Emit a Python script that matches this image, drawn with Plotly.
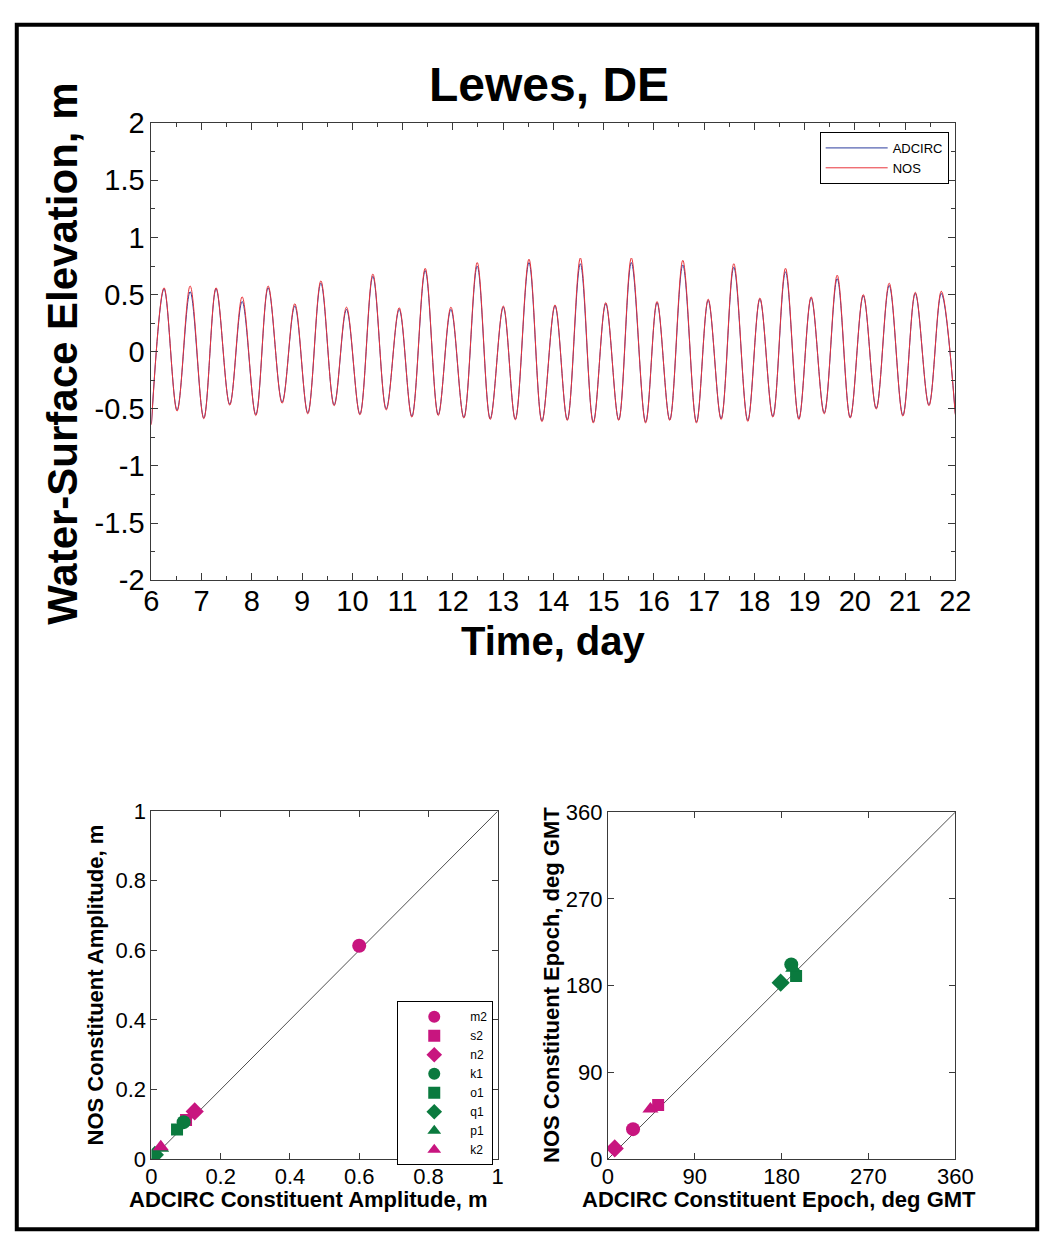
import plotly.graph_objects as go

W, H = 1064, 1253

# ---- Water-surface elevation at Lewes, DE: high / low water (day, m) ----
high_time = [6.252, 6.771, 7.287, 7.806, 8.324, 8.854, 9.373, 9.883, 10.408, 10.932,
             11.450, 11.961, 12.485, 13.004, 13.515, 14.033, 14.538, 15.043, 15.553,
             16.064, 16.577, 17.082, 17.592, 18.111, 18.621, 19.132, 19.650, 20.169,
             20.685, 21.204, 21.722]
nos_high = [0.56, 0.575, 0.56, 0.48, 0.575, 0.42, 0.62, 0.39, 0.68, 0.385, 0.73, 0.39,
            0.78, 0.40, 0.81, 0.41, 0.82, 0.43, 0.82, 0.44, 0.80, 0.46, 0.77, 0.47,
            0.73, 0.48, 0.67, 0.50, 0.60, 0.52, 0.53]
adcirc_high = [0.55, 0.525, 0.55, 0.44, 0.56, 0.40, 0.60, 0.37, 0.66, 0.37, 0.71, 0.37,
               0.75, 0.39, 0.78, 0.40, 0.77, 0.42, 0.78, 0.43, 0.76, 0.45, 0.74, 0.46,
               0.70, 0.47, 0.64, 0.49, 0.58, 0.51, 0.51]
low_time = [6.511, 7.043, 7.559, 8.078, 8.602, 9.113, 9.637, 10.150, 10.674, 11.184,
            11.709, 12.219, 12.744, 13.243, 13.773, 14.278, 14.796, 15.301, 15.837,
            16.317, 16.849, 17.340, 17.870, 18.369, 18.887, 19.392, 19.909, 20.427,
            20.957, 21.476]
nos_low = [-0.52, -0.587, -0.468, -0.559, -0.451, -0.544, -0.473, -0.553, -0.510, -0.573,
           -0.559, -0.581, -0.593, -0.596, -0.612, -0.601, -0.624, -0.601, -0.624, -0.601,
           -0.624, -0.593, -0.610, -0.573, -0.593, -0.544, -0.581, -0.502, -0.564, -0.473]
adcirc_low = [-0.51, -0.58, -0.46, -0.55, -0.44, -0.535, -0.465, -0.545, -0.50, -0.565,
              -0.55, -0.575, -0.585, -0.59, -0.605, -0.595, -0.615, -0.595, -0.615, -0.595,
              -0.615, -0.585, -0.60, -0.565, -0.585, -0.535, -0.575, -0.495, -0.555, -0.465]
series_start_time, series_end_time = 6.0, 22.0
nos_start, nos_end = -0.64, -0.55
adcirc_start, adcirc_end = -0.63, -0.54

elev_ticks = [-2, -1.5, -1, -0.5, 0, 0.5, 1, 1.5, 2]
elev_ticktext = ["-2", "-1.5", "-1", "-0.5", "0", "0.5", "1", "1.5", "2"]
day_ticks = list(range(6, 23))

# ---- Harmonic constituents ----
constituents = ["m2", "s2", "n2", "k1", "o1", "q1", "p1", "k2"]
symbols = ["circle", "square", "diamond", "circle", "square", "diamond",
           "triangle-up", "triangle-up"]
colors = ["#C8157F", "#C8157F", "#C8157F", "#0A7A3E", "#0A7A3E", "#0A7A3E",
          "#0A7A3E", "#C8157F"]
amp_adcirc = [0.600, 0.100, 0.125, 0.093, 0.074, 0.010, 0.028, 0.027]
amp_nos = [0.613, 0.112, 0.137, 0.106, 0.085, 0.012, 0.031, 0.035]
epoch_adcirc = [26, 52, 7, 190, 195, 179, 192, 44]
epoch_nos = [31, 56, 11, 202, 190, 183, 198, 52]


def interleave(start_t, start_v, ht, hv, lt, lv, end_t, end_v):
    t, v = [start_t], [start_v]
    for i in range(len(ht)):
        t.append(ht[i]); v.append(hv[i])
        if i < len(lt):
            t.append(lt[i]); v.append(lv[i])
    t.append(end_t); v.append(end_v)
    return t, v


t_ad, v_ad = interleave(series_start_time, adcirc_start, high_time, adcirc_high,
                        low_time, adcirc_low, series_end_time, adcirc_end)
t_nos, v_nos = interleave(series_start_time, nos_start, high_time, nos_high,
                          low_time, nos_low, series_end_time, nos_end)


def px_x(p):
    return p / W


def px_y(p):
    return 1 - p / H


FONT = "Liberation Sans, Arial, sans-serif"
AXIS_COL = "#3a3a3a"

fig = go.Figure()

fig.add_trace(go.Scatter(x=t_ad, y=v_ad, mode="lines", name="ADCIRC",
                         line=dict(color="#2B3C9E", width=1, shape="spline", smoothing=1.0),
                         xaxis="x", yaxis="y", legend="legend"))
fig.add_trace(go.Scatter(x=t_nos, y=v_nos, mode="lines", name="NOS",
                         line=dict(color="#E8333A", width=1, shape="spline", smoothing=1.0),
                         xaxis="x", yaxis="y", legend="legend"))

# 1:1 reference lines
fig.add_trace(go.Scatter(x=[0, 1], y=[0, 1], mode="lines", showlegend=False,
                         line=dict(color="#222222", width=0.8), xaxis="x2", yaxis="y2"))
fig.add_trace(go.Scatter(x=[0, 360], y=[0, 360], mode="lines", showlegend=False,
                         line=dict(color="#222222", width=0.8), xaxis="x3", yaxis="y3"))

for i, name in enumerate(constituents):
    size = 12 if symbols[i] == "square" else 14
    fig.add_trace(go.Scatter(x=[amp_adcirc[i]], y=[amp_nos[i]], mode="markers", name=name,
                             marker=dict(symbol=symbols[i], color=colors[i], size=size),
                             xaxis="x2", yaxis="y2", legend="legend2"))
    fig.add_trace(go.Scatter(x=[epoch_adcirc[i]], y=[epoch_nos[i]], mode="markers", name=name,
                             showlegend=False,
                             marker=dict(symbol=symbols[i], color=colors[i], size=size),
                             xaxis="x3", yaxis="y3"))

common_axis = dict(showline=True, linecolor=AXIS_COL, linewidth=1, mirror="ticks",
                   ticks="inside", tickcolor=AXIS_COL, showgrid=False, zeroline=False)

BIG_TICK = dict(family=FONT, size=29, color="black")
SMALL_TICK = dict(family=FONT, size=22, color="black")

fig.update_layout(
    width=W, height=H,
    margin=dict(l=0, r=0, t=0, b=0),
    paper_bgcolor="white", plot_bgcolor="white",
    font=dict(family=FONT, color="black"),
    xaxis=dict(common_axis, domain=[px_x(147), px_x(971)], anchor="y",
               range=[6, 22], tickvals=day_ticks, ticklen=7, tickfont=BIG_TICK,
               ticklabelstandoff=-5,
               minor=dict(ticks="inside", dtick=0.5, ticklen=4, tickcolor=AXIS_COL)),
    yaxis=dict(common_axis, domain=[px_y(579), px_y(110)], anchor="x",
               range=[-2, 2], tickvals=elev_ticks, ticktext=elev_ticktext, ticklen=7,
               tickfont=BIG_TICK,
               minor=dict(ticks="inside", dtick=0.25, ticklen=4, tickcolor=AXIS_COL)),
    xaxis2=dict(common_axis, domain=[px_x(147), px_x(502)], anchor="y2",
                range=[0, 1], dtick=0.2, ticklen=6, tickfont=SMALL_TICK,
                ticklabelstandoff=-2),
    yaxis2=dict(common_axis, domain=[px_y(1173), px_y(816)], anchor="x2",
                range=[0, 1], dtick=0.2, ticklen=6, tickfont=SMALL_TICK),
    xaxis3=dict(common_axis, domain=[px_x(615), px_x(971)], anchor="y3",
                range=[0, 360], dtick=90, ticklen=6, tickfont=SMALL_TICK,
                ticklabelstandoff=-2),
    yaxis3=dict(common_axis, domain=[px_y(1173), px_y(817)], anchor="x3",
                range=[0, 360], dtick=90, ticklen=6, tickfont=SMALL_TICK),
    legend=dict(x=px_x(832), y=px_y(119), xanchor="left", yanchor="top",
                bgcolor="white", bordercolor="black", borderwidth=1,
                font=dict(family=FONT, size=13, color="black"), tracegroupgap=0,
                itemwidth=62),
    legend2=dict(x=px_x(399), y=px_y(1011), xanchor="left", yanchor="top",
                 bgcolor="white", bordercolor="black", borderwidth=1,
                 font=dict(family=FONT, size=12, color="black"), tracegroupgap=0,
                 itemsizing="constant", itemwidth=62),
    showlegend=True,
)

annotations = [
    dict(text="<b>Lewes, DE</b>", x=px_x(555), y=px_y(70), font=dict(size=48)),
    dict(text="<b>Time, day</b>", x=px_x(559), y=px_y(641), font=dict(size=40)),
    dict(text="<b>Water-Surface Elevation, m</b>", x=px_x(55), y=px_y(347),
         textangle=-90, font=dict(size=42)),
    dict(text="<b>ADCIRC Constituent Amplitude, m</b>", x=px_x(308), y=px_y(1215),
         font=dict(size=22)),
    dict(text="<b>NOS Constituent Amplitude, m</b>", x=px_x(90), y=px_y(994),
         textangle=-90, font=dict(size=22)),
    dict(text="<b>ADCIRC Constituent Epoch, deg GMT</b>", x=px_x(790), y=px_y(1215),
         font=dict(size=22)),
    dict(text="<b>NOS Constituent Epoch, deg GMT</b>", x=px_x(557), y=px_y(994),
         textangle=-90, font=dict(size=22)),
]
for a in annotations:
    a.update(xref="paper", yref="paper", showarrow=False, xanchor="center", yanchor="middle")
    a["font"].update(family=FONT, color="black")
fig.update_layout(annotations=annotations)

# outer frame
fig.add_shape(type="rect", xref="paper", yref="paper",
              x0=px_x(9), x1=px_x(1055), y0=px_y(1245), y1=px_y(9),
              line=dict(color="black", width=4))

fig.write_html("out.html",
               post_script="document.body.style.margin='0';"
                           "document.body.style.overflow='hidden';")
